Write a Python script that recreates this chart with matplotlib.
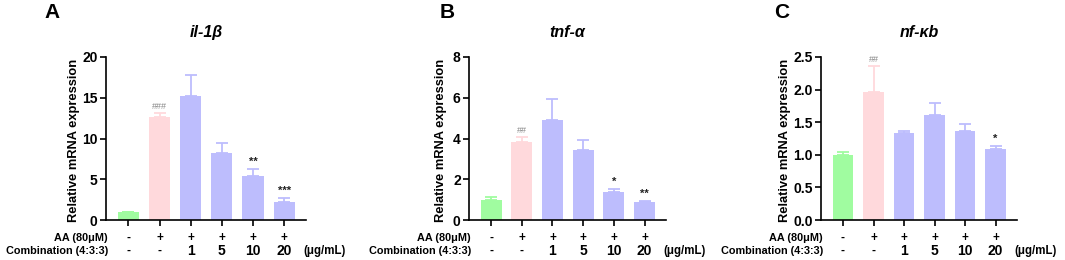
import matplotlib

matplotlib.use("Agg")
import matplotlib.pyplot as plt
import numpy as np

plt.rcParams["font.family"] = ["Liberation Sans", "DejaVu Sans"]
plt.rcParams["font.weight"] = "bold"

# groups: control, AA model, AA + combination 1/5/10/20 ug/mL
aa_row = ["-", "+", "+", "+", "+", "+"]
combo_row = ["-", "-", "1", "5", "10", "20"]

il1b_mean = [0.95, 12.6, 15.25, 8.2, 5.45, 2.15]
il1b_err = [0.08, 0.5, 2.6, 1.25, 0.85, 0.5]
il1b_marks = ["", "###", "", "", "**", "***"]

tnf_mean = [0.98, 3.85, 4.89, 3.46, 1.36, 0.90]
tnf_err = [0.17, 0.2, 1.04, 0.47, 0.15, 0.05]
tnf_marks = ["", "##", "", "", "*", "**"]

nfkb_mean = [1.0, 1.97, 1.33, 1.61, 1.36, 1.09]
nfkb_err = [0.05, 0.39, 0.04, 0.18, 0.12, 0.05]
nfkb_marks = ["", "##", "", "", "", "*"]

GREEN = "#a0fca0"
PINK = "#ffd9dc"
LAVENDER = "#bdbdfd"
bar_colors = [GREEN, PINK] + [LAVENDER] * 4

panels = [
    # letter, title, mean, err, marks, ymax, yticks, fmt, axes x-span (px), letter x, ylabel x
    ("A", "il-1\u03b2", il1b_mean, il1b_err, il1b_marks, 20, np.arange(0, 21, 5), "{:.0f}",
     [106, 306], 52, -0.16),
    ("B", "tnf-\u03b1", tnf_mean, tnf_err, tnf_marks, 8, np.arange(0, 9, 2), "{:.0f}",
     [469, 666], 447, -0.14),
    ("C", "nf-\u03bab", nfkb_mean, nfkb_err, nfkb_marks, 2.5, np.arange(0, 2.6, 0.5), "{:.1f}",
     [821, 1017], 782, -0.185),
]

W, H = 1065, 260
fig = plt.figure(figsize=(W / 100, H / 100), dpi=100)
top_px, bot_px = 57, 220

for letter, title, mean, err, marks, ymax, yticks, fmt, (x0, x1), letter_x, ylab_x in panels:
    ax = fig.add_axes([x0 / W, 1 - bot_px / H, (x1 - x0) / W, (bot_px - top_px) / H])
    x = np.arange(len(mean))
    ax.bar(x, mean, width=0.68, color=bar_colors, zorder=2)
    for xi, m, e, c in zip(x, mean, err, bar_colors):
        ax.errorbar(xi, m, yerr=[[0], [e]], color=c, elinewidth=1.3, capsize=4,
                    capthick=1.3, zorder=1)
    for xi, m, e, s in zip(x, mean, err, marks):
        if not s:
            continue
        hash_mark = s.startswith("#")
        ax.annotate(s, (xi, m + e), xytext=(0, 1.5), textcoords="offset points",
                    ha="center", va="bottom", fontsize=6.5 if hash_mark else 8,
                    color="#888888" if hash_mark else "#222222",
                    fontweight="normal" if hash_mark else "bold", annotation_clip=False)

    ax.set_xlim(-0.72, 5.7)
    ax.set_ylim(0, ymax)
    ax.set_yticks(yticks)
    ax.set_yticklabels([fmt.format(v) for v in yticks])
    ax.set_xticks(x)
    ax.set_xticklabels([])
    for side in ("top", "right"):
        ax.spines[side].set_visible(False)
    for side in ("left", "bottom"):
        ax.spines[side].set_linewidth(1.2)
    ax.tick_params(axis="both", width=1.2, length=4, labelsize=10, pad=2)

    ax.text(ylab_x, 0.49, "Relative mRNA expression", transform=ax.transAxes,
            rotation=90, ha="center", va="center", fontsize=9.3, fontweight="bold")
    ax.text(0.5, 1.15, title, transform=ax.transAxes, ha="center", va="center",
            fontsize=11.5, fontweight="bold", fontstyle="italic")
    fig.text(letter_x / W, 1 - 12 / H, letter, ha="center", va="center",
             fontsize=15, fontweight="bold")

    # treatment table under the axis
    tr = ax.get_xaxis_transform()
    ax.text(0.01, -0.11, "AA (80\u03bcM)", transform=ax.transAxes, ha="right",
            va="center", fontsize=7.8, fontweight="bold")
    ax.text(0.01, -0.19, "Combination (4:3:3)", transform=ax.transAxes, ha="right",
            va="center", fontsize=7.8, fontweight="bold")
    for xi, a, c in zip(x, aa_row, combo_row):
        ax.text(xi, -0.11, a, transform=tr, ha="center", va="center", fontsize=8.5,
                fontweight="bold")
        ax.text(xi, -0.19, c, transform=tr, ha="center", va="center",
                fontsize=10 if c != "-" else 8.5, fontweight="bold")
    ax.text(0.985, -0.19, "(\u03bcg/mL)", transform=ax.transAxes, ha="left",
            va="center", fontsize=8.3, fontweight="bold")

fig.savefig("out.png", dpi=100)
